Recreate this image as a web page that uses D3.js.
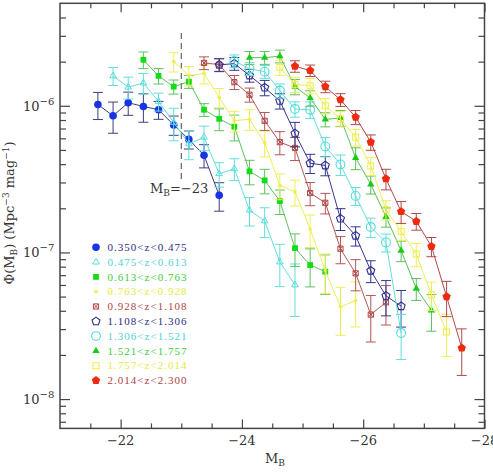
<!DOCTYPE html>
<html>
<head>
<meta charset="utf-8">
<script src="https://cdn.jsdelivr.net/npm/d3@7"></script>
<style>
  body { margin: 0; background: #fff; }
  svg { display: block; font-family: "DejaVu Serif", "Liberation Serif", serif; }
</style>
</head>
<body>
<svg id="chart" width="493" height="476"></svg>
<script>
// magnitude bin centres (M_B)
const binMags = [-21.625, -21.875, -22.125, -22.375, -22.625, -22.875, -23.125, -23.375,
  -23.625, -23.875, -24.125, -24.375, -24.625, -24.875, -25.125, -25.375, -25.625,
  -25.875, -26.125, -26.375, -26.625, -26.875, -27.125, -27.375, -27.625];

// redshift bins
const zBins = ["0.350<z<0.475", "0.475<z<0.613", "0.613<z<0.763", "0.763<z<0.928",
  "0.928<z<1.108", "1.108<z<1.306", "1.306<z<1.521", "1.521<z<1.757",
  "1.757<z<2.014", "2.014<z<2.300"];

// first bin index of every series
const startBin = [0, 1, 3, 5, 7, 8, 9, 10, 12, 13];

// Phi(M_B) values and relative errors
const phi1 = [1.02e-6, 8.55e-7, 1.05e-6, 9.9e-7, 9.4e-7, 7.4e-7, 5.9e-7, 4.6e-7, 2.45e-7];
const err1 = [0.21, 0.24, 0.18, 0.22, 0.14, 0.15, 0.14, 0.18, 0.22];

const phi2 = [1.6e-6, 1.34e-6, 1.43e-6, 1.07e-6, 7.7e-7, 5.5e-7, 6.1e-7, 3.44e-7, 3.72e-7, 1.94e-7, 1.64e-7, 8.6e-8, 6.0e-8];
const err2 = [0.14, 0.17, 0.16, 0.14, 0.25, 0.22, 0.19, 0.19, 0.17, 0.22, 0.23, 0.32, 0.39];

const phi3 = [2.06e-6, 1.6e-6, 1.35e-6, 1.46e-6, 9.4e-7, 8.15e-7, 7.2e-7, 3.57e-7, 3.1e-7, 2.24e-7, 1.07e-7, 8.2e-8, 7.4e-8];
const err3 = [0.13, 0.12, 0.11, 0.1, 0.1, 0.17, 0.2, 0.19, 0.19, 0.19, 0.25, 0.29, 0.3];

const phi4 = [2.0e-6, 1.61e-6, 1.66e-6, 1.14e-6, 7.9e-7, 8.1e-7, 5.6e-7, 2.86e-7, 2.59e-7, 1.44e-7, 7.5e-8, 4.25e-8, 4.7e-8];
const err4 = [0.15, 0.15, 0.15, 0.15, 0.16, 0.16, 0.2, 0.2, 0.2, 0.25, 0.3, 0.36, 0.34];

const phi5 = [1.96e-6, 1.91e-6, 1.45e-6, 1.19e-6, 7.9e-7, 5.65e-7, 5.16e-7, 2.54e-7, 2.18e-7, 1.06e-7, 7.2e-8, 3.77e-8, 4.57e-8];
const err5 = [0.1, 0.1, 0.11, 0.11, 0.14, 0.18, 0.18, 0.18, 0.16, 0.21, 0.24, 0.35, 0.3];

const phi6 = [1.9e-6, 1.94e-6, 1.61e-6, 1.33e-6, 1.08e-6, 6.48e-7, 4.06e-7, 3.92e-7, 1.7e-7, 1.3e-7, 7.5e-8, 5.06e-8, 4.3e-8];
const err6 = [0.1, 0.1, 0.1, 0.12, 0.12, 0.19, 0.15, 0.15, 0.17, 0.15, 0.17, 0.27, 0.28];

const phi7 = [2.02e-6, 1.79e-6, 1.71e-6, 1.27e-6, 9.5e-7, 9.4e-7, 5.28e-7, 3.98e-7, 2.43e-7, 1.49e-7, 1.17e-7, 2.82e-8];
const err7 = [0.1, 0.1, 0.1, 0.11, 0.12, 0.13, 0.15, 0.16, 0.14, 0.15, 0.14, 0.34];

const phi8 = [2.13e-6, 2.13e-6, 2.18e-6, 1.35e-6, 1.13e-6, 8.07e-7, 8.26e-7, 4.42e-7, 2.91e-7, 1.75e-7, 1.03e-7, 5.67e-8, 4.03e-8];
const err8 = [0.1, 0.1, 0.1, 0.12, 0.12, 0.11, 0.125, 0.17, 0.14, 0.15, 0.16, 0.17, 0.28];

const phi9 = [1.83e-6, 1.4e-6, 1.37e-6, 1.0e-6, 8.15e-7, 6.1e-7, 3.89e-7, 1.96e-7, 1.39e-7, 9.75e-8, 5.14e-8, 2.87e-8];
const err9 = [0.12, 0.12, 0.12, 0.12, 0.12, 0.13, 0.14, 0.15, 0.13, 0.18, 0.22, 0.32];

const phi10 = [1.86e-6, 1.74e-6, 1.35e-6, 1.1e-6, 8.36e-7, 5.65e-7, 3.18e-7, 1.9e-7, 1.63e-7, 1.1e-7, 5.0e-8, 2.23e-8];
const err10 = [0.09, 0.09, 0.09, 0.1, 0.11, 0.12, 0.16, 0.17, 0.13, 0.15, 0.27, 0.35];

// ticks
const xMajorTicks = [-22, -24, -26, -28];
const xTickLabels = ["\u221222", "\u221224", "\u221226", "\u221228"];
const xMinorTicks = [-21.5, -22.5, -23, -23.5, -24.5, -25, -25.5, -26.5, -27, -27.5];
const yMajorTicks = [1e-8, 1e-7, 1e-6];
const yTickExps = ["\u22128", "\u22127", "\u22126"];
const yMinorTicks = [7e-9, 8e-9, 9e-9, 2e-8, 3e-8, 4e-8, 5e-8, 6e-8, 7e-8, 8e-8, 9e-8,
  2e-7, 3e-7, 4e-7, 5e-7, 6e-7, 7e-7, 8e-7, 9e-7, 2e-6, 3e-6, 4e-6];

const phiList = [phi1, phi2, phi3, phi4, phi5, phi6, phi7, phi8, phi9, phi10];
const errList = [err1, err2, err3, err4, err5, err6, err7, err8, err9, err10];

// marker / colour styles
const styles = [
  { mark: "circleFill", fill: "#1832e6", line: "#3d3f7c", text: "#2b2b8c" },
  { mark: "triOpen",    fill: "#55dede", line: "#66dddd", text: "#4fd2d2" },
  { mark: "squareFill", fill: "#14dc14", line: "#5cc45c", text: "#3ccc3c" },
  { mark: "star",       fill: "#eeee40", line: "#eeee55", text: "#e8e840" },
  { mark: "boxCross",   fill: "#b04848", line: "#b45656", text: "#b04444" },
  { mark: "circleOpen", fill: "#2e2e8e", line: "#35358f", text: "#2b2b8c" },
  { mark: "circleBig",  fill: "#4edcdc", line: "#66dddd", text: "#4fd2d2" },
  { mark: "triFill",    fill: "#14cc14", line: "#5cc05c", text: "#3ccc3c" },
  { mark: "squareOpen", fill: "#eeee40", line: "#eeee55", text: "#e8e840" },
  { mark: "pentFill",   fill: "#ee2a10", line: "#b04a4a", text: "#b04040" }
];

const svg = d3.select("#chart");
const pLeft = 60, pRight = 484.5, pTop = 3.3, pBottom = 428.4;

const x = d3.scaleLinear().domain([-21, -28]).range([pLeft, pRight]);
const y = d3.scaleLog().domain([Math.pow(10, -8.2), 5e-6]).range([pBottom, pTop]);

function polygon(n, r, rot) {
  const pts = d3.range(n).map(i => {
    const a = rot + i * 2 * Math.PI / n;
    return [r * Math.cos(a), r * Math.sin(a)];
  });
  return "M" + pts.map(p => p[0].toFixed(2) + "," + p[1].toFixed(2)).join("L") + "Z";
}

function drawMarker(g, st) {
  const c = st.fill;
  switch (st.mark) {
    case "circleFill":
      g.append("circle").attr("r", 3.8).attr("fill", c); break;
    case "triOpen":
      g.append("path").attr("d", polygon(3, 3.8, -Math.PI / 2)).attr("fill", "none").attr("stroke", c).attr("stroke-width", 1); break;
    case "squareFill":
      g.append("rect").attr("x", -2.9).attr("y", -2.9).attr("width", 5.8).attr("height", 5.8).attr("fill", c); break;
    case "star":
      g.append("path").attr("d", "M-2,0H2M0,-2V2M-1.4,-1.4L1.4,1.4M-1.4,1.4L1.4,-1.4").attr("stroke", c).attr("stroke-width", 1); break;
    case "boxCross":
      g.append("path").attr("d", "M-2.6,-2.6H2.6V2.6H-2.6ZM-2.6,-2.6L2.6,2.6M-2.6,2.6L2.6,-2.6").attr("fill", "none").attr("stroke", c).attr("stroke-width", 1); break;
    case "circleOpen":
      g.append("path").attr("d", polygon(5, 4.2, -Math.PI / 2)).attr("fill", "none").attr("stroke", c).attr("stroke-width", 1.1); break;
    case "circleBig":
      g.append("circle").attr("r", 4.4).attr("fill", "none").attr("stroke", c).attr("stroke-width", 1.1); break;
    case "triFill":
      g.append("path").attr("d", polygon(3, 4.2, -Math.PI / 2)).attr("fill", c); break;
    case "squareOpen":
      g.append("rect").attr("x", -3).attr("y", -3).attr("width", 6).attr("height", 6).attr("fill", "none").attr("stroke", c).attr("stroke-width", 1); break;
    case "pentFill":
      g.append("path").attr("d", polygon(5, 4.4, -Math.PI / 2)).attr("fill", c); break;
  }
}

// ---- axes (ticks pointing inward on all four sides) ----
const axisCol = "#444";
function tickAxis(axis, pos, vals, size) {
  const g = svg.append("g").attr("transform", pos)
    .call(axis.tickValues(vals).tickSize(size).tickFormat(""));
  g.select(".domain").remove();
  g.selectAll(".tick line").attr("stroke", axisCol).attr("stroke-width", 1.2);
  return g;
}
tickAxis(d3.axisBottom(x), `translate(0,${pBottom})`, xMajorTicks, -9);
tickAxis(d3.axisBottom(x), `translate(0,${pBottom})`, xMinorTicks, -5);
tickAxis(d3.axisTop(x), `translate(0,${pTop})`, xMajorTicks, -9);
tickAxis(d3.axisTop(x), `translate(0,${pTop})`, xMinorTicks, -5);
tickAxis(d3.axisLeft(y), `translate(${pLeft},0)`, yMajorTicks, -10);
tickAxis(d3.axisLeft(y), `translate(${pLeft},0)`, yMinorTicks, -6);
tickAxis(d3.axisRight(y), `translate(${pRight},0)`, yMajorTicks, -10);
tickAxis(d3.axisRight(y), `translate(${pRight},0)`, yMinorTicks, -6);

svg.append("rect")
  .attr("x", pLeft).attr("y", pTop)
  .attr("width", pRight - pLeft).attr("height", pBottom - pTop)
  .attr("fill", "none").attr("stroke", axisCol).attr("stroke-width", 1.5);

// tick labels
svg.append("g").selectAll("text").data(xMajorTicks).join("text")
  .attr("x", d => x(d)).attr("y", 445)
  .attr("text-anchor", "middle")
  .attr("font-size", 13).attr("fill", "#333")
  .text((d, i) => xTickLabels[i]);

const yl = svg.append("g").selectAll("text").data(yMajorTicks).join("text")
  .attr("x", 23).attr("y", d => y(d) + 5)
  .attr("font-size", 13).attr("fill", "#333");
yl.append("tspan").text("10");
yl.append("tspan").attr("font-size", 10).attr("dy", -6).text((d, i) => yTickExps[i]);

// axis titles
const xt = svg.append("text").attr("x", 265).attr("y", 463)
  .attr("font-size", 13).attr("fill", "#333");
xt.append("tspan").text("M");
xt.append("tspan").attr("font-size", 9).attr("dy", 3).text("B");

const yt = svg.append("text")
  .attr("transform", "translate(14,213) rotate(-90)")
  .attr("text-anchor", "middle")
  .attr("font-size", 13).attr("fill", "#333");
yt.append("tspan").text("\u03A6(M");
yt.append("tspan").attr("font-size", 9).attr("dy", 3).text("B");
yt.append("tspan").attr("dy", -3).text(") (Mpc");
yt.append("tspan").attr("font-size", 9).attr("dy", -5).text("\u22123");
yt.append("tspan").attr("dy", 5).text(" mag");
yt.append("tspan").attr("font-size", 9).attr("dy", -5).text("\u22121");
yt.append("tspan").attr("dy", 5).text(")");

// M_B = -23 marker
svg.append("line")
  .attr("x1", x(-23)).attr("x2", x(-23))
  .attr("y1", 33).attr("y2", 180)
  .attr("stroke", "#555").attr("stroke-width", 1.1)
  .attr("stroke-dasharray", "6,4");
const ml = svg.append("text").attr("x", 150).attr("y", 193)
  .attr("font-size", 13).attr("fill", "#333");
ml.append("tspan").text("M");
ml.append("tspan").attr("font-size", 9).attr("dy", 3).text("B");
ml.append("tspan").attr("dy", -3).text("=\u221223");

// ---- data series ----
const line = d3.line().x(d => x(d.m)).y(d => y(d.v));

phiList.forEach((phi, s) => {
  const st = styles[s];
  const pts = phi.map((v, i) => ({ m: binMags[startBin[s] + i], v: v, e: errList[s][i] }));
  const g = svg.append("g");

  g.append("path").datum(pts)
    .attr("d", line).attr("fill", "none")
    .attr("stroke", st.line).attr("stroke-width", 1);

  g.selectAll(".eb").data(pts).join("path")
    .attr("class", "eb")
    .attr("d", d => {
      const cx = x(d.m), y1 = y(d.v * (1 + d.e)), y2 = y(d.v * (1 - d.e));
      return `M${cx},${y1}V${y2}M${cx - 5},${y1}H${cx + 5}M${cx - 5},${y2}H${cx + 5}`;
    })
    .attr("fill", "none").attr("stroke", st.line).attr("stroke-width", 1);

  g.selectAll(".mk").data(pts).join("g")
    .attr("class", "mk")
    .attr("transform", d => `translate(${x(d.m)},${y(d.v)})`)
    .each(function () { drawMarker(d3.select(this), st); });
});

// ---- legend ----
const leg = svg.append("g").selectAll("g").data(zBins).join("g")
  .attr("transform", (d, i) => `translate(0,${247.3 + i * 14.8})`);
leg.append("g").attr("transform", "translate(96,0)")
  .each(function (d, i) { drawMarker(d3.select(this), styles[i]); });
leg.append("text")
  .attr("x", 107.5).attr("y", 3.6)
  .attr("font-family", "Liberation Serif, serif")
  .attr("font-size", 11)
  .attr("textLength", 79).attr("lengthAdjust", "spacing")
  .attr("fill", (d, i) => styles[i].text)
  .text(d => d);
</script>
</body>
</html>
